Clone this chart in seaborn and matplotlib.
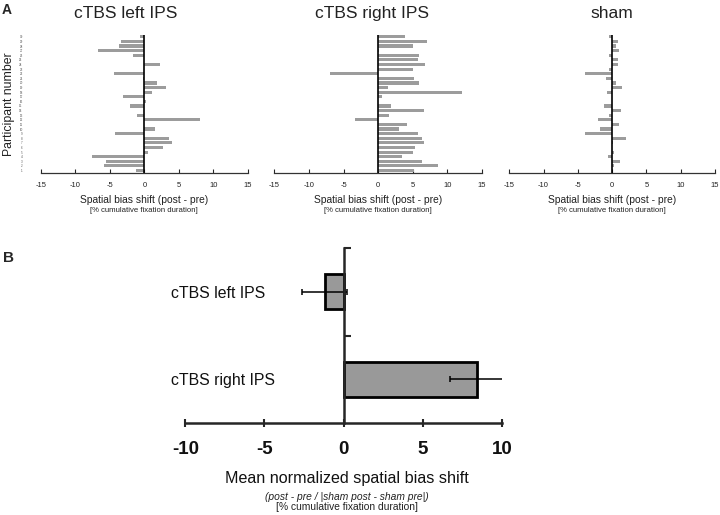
import numpy as np
import pandas as pd
import matplotlib
matplotlib.use("Agg")
import matplotlib.pyplot as plt
import seaborn as sns

# data: spatial bias shift per participant (top row = participant 30)
participants = [str(i) for i in range(30, 0, -1)]
left_ips = [-0.7, -3.4, -3.6, -6.7, -1.7, 0, 2.2, 0, -4.4, -0.2,
            1.8, 3.1, 1.1, -3.1, 0.2, -2.1, 0, -1.0, 8.0, 0,
            1.6, -4.3, 3.5, 4.0, 2.7, 0.6, -7.6, -5.5, -5.8, -1.2]
right_ips = [3.9, 7.0, 5.1, 0.1, 5.9, 5.7, 6.7, 5.1, -7.0, 5.2,
             5.9, 1.4, 12.1, 0.5, 0, 1.8, 6.6, 1.5, -3.4, 4.2,
             3.0, 5.7, 6.3, 6.6, 5.3, 5.1, 3.5, 6.4, 8.7, 5.2]
sham = [-0.4, 0.9, 0.5, 1.0, -0.4, 0.9, 0.9, -0.5, -3.9, -0.9,
        0.5, 1.4, -0.7, 0.05, 0, -1.2, 1.3, -0.4, -2.0, 1.0,
        -1.8, -3.9, 2.0, 0.15, 0, 0.3, -0.6, 1.2, 0.2, 0]
panel_titles = ["cTBS left IPS", "cTBS right IPS", "sham"]

# panel B: mean normalized shift and error
conditions = ["cTBS left IPS", "cTBS right IPS"]
mean_shift = [-1.2, 8.4]
mean_err = [1.4, 1.7]

sns.set_style("white")
plt.rcParams["font.family"] = ["Liberation Sans", "DejaVu Sans"]
plt.rcParams["axes.unicode_minus"] = False

W, H = 720, 515
fig = plt.figure(figsize=(7.2, 5.15), dpi=100)

def px_axes(x0, x1, ytop, ybot):
    return fig.add_axes([x0 / W, 1 - ybot / H, (x1 - x0) / W, (ybot - ytop) / H])

txt = "#222222"
bar_gray = "#9c9c9c"

# ---------- panel A ----------
top_axes = [px_axes(40.7, 248, 35, 173.3),
            px_axes(274.3, 482, 35, 173.3),
            px_axes(509.3, 715, 35, 173.3)]
title_x = [0.41, 0.47, 0.5]

for ax, vals, title, tx in zip(top_axes, [left_ips, right_ips, sham], panel_titles, title_x):
    df = pd.DataFrame({"participant": participants, "shift": vals})
    sns.barplot(data=df, x="shift", y="participant", order=participants,
                color=bar_gray, width=0.68, orient="h", ax=ax, saturation=1,
                linewidth=0)
    ax.axvline(0, color="black", lw=1.2)
    ax.set_xlim(-15, 15)
    ax.set_ylim(29.6, -0.4)
    ax.set_xticks(range(-15, 16, 5))
    ax.tick_params(axis="x", direction="in", length=3, width=0.8,
                   labelsize=5.5, labelcolor=txt, pad=6, bottom=True)
    for s in ["top", "right", "left"]:
        ax.spines[s].set_visible(False)
    ax.spines["bottom"].set_color("#333333")
    ax.spines["bottom"].set_linewidth(0.9)
    ax.set_xlabel("")
    ax.set_ylabel("")
    ax.set_title(title, x=tx, y=1.0, pad=12, fontsize=12.5, color=txt)
    ax.text(0.5, -0.195, "Spatial bias shift (post - pre)", transform=ax.transAxes,
            ha="center", va="center", fontsize=7.4, color=txt)
    ax.text(0.5, -0.27, "[% cumulative fixation duration]", transform=ax.transAxes,
            ha="center", va="center", fontsize=5.6, color=txt)

top_axes[0].tick_params(axis="y", length=0, labelsize=2.2, labelcolor="#555555", pad=13)
for ax in top_axes[1:]:
    ax.set_yticks([])
top_axes[0].set_ylabel("Participant number", fontsize=8.8, color=txt, labelpad=3)

fig.text(2 / W, 1 - 10 / H, "A", fontsize=10, fontweight="bold", va="center")
fig.text(3 / W, 1 - 258.5 / H, "B", fontsize=11, fontweight="bold", va="center")

# ---------- panel B ----------
axb = px_axes(185.3, 502, 248, 423)
dfb = pd.DataFrame({"condition": conditions, "shift": mean_shift})
sns.barplot(data=dfb, x="shift", y="condition", order=conditions, color="#999999",
            width=0.4, orient="h", ax=axb, saturation=1,
            edgecolor="black", linewidth=2)
axb.errorbar(mean_shift, range(len(conditions)), xerr=mean_err, fmt="none",
             ecolor="black", elinewidth=1.1, capsize=2, capthick=1.1)
axb.set_xlim(-10, 10)
axb.set_ylim(1.5, -0.5)
axb.set_xticks(range(-10, 11, 5))
axb.set_xticklabels([str(v) for v in range(-10, 11, 5)], fontweight="bold")
axb.tick_params(axis="x", direction="inout", length=6, width=1.5, labelsize=13.5,
                labelcolor="#111111", pad=10, bottom=True)
axb.spines["left"].set_position(("data", 0))
for s in ["top", "right"]:
    axb.spines[s].set_visible(False)
axb.spines["left"].set_linewidth(1.8)
axb.spines["bottom"].set_linewidth(1.8)
axb.set_yticks([-0.5, 0.5], minor=True)
axb.tick_params(axis="y", which="minor", direction="in", length=5, width=1.5, left=True)
axb.tick_params(axis="y", which="major", length=0, labelsize=11.4, labelcolor="#111111", pad=124)
for lab in axb.get_yticklabels():
    lab.set_horizontalalignment("left")
axb.set_xlabel("")
axb.set_ylabel("")

fig.text(347 / W, 1 - 478 / H, "Mean normalized spatial bias shift",
         ha="center", va="center", fontsize=11.6, color="#111111")
fig.text(347 / W, 1 - 496.7 / H, "(post - pre / |sham post - sham pre|)",
         ha="center", va="center", fontsize=7.4, style="italic", color=txt)
fig.text(347 / W, 1 - 506.7 / H, "[% cumulative fixation duration]",
         ha="center", va="center", fontsize=7.4, color=txt)

fig.savefig("out.png", dpi=100)
